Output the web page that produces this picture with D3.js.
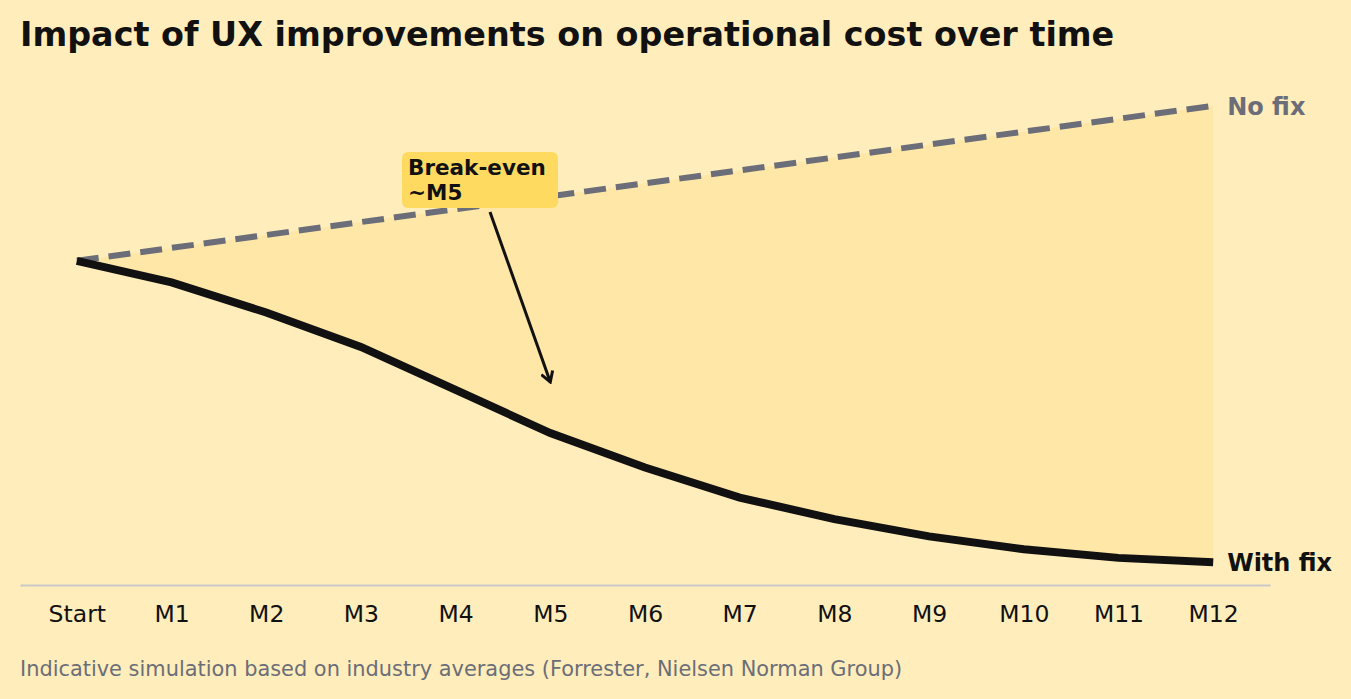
<!DOCTYPE html>
<html>
<head>
<meta charset="utf-8">
<script src="https://cdn.jsdelivr.net/npm/d3@7"></script>
<style>
  html, body { margin: 0; padding: 0; background: #FFEDBB; }
  svg { display: block; font-family: "DejaVu Sans", sans-serif; }
</style>
</head>
<body>
<svg id="chart"></svg>
<script>
// chart data
const months = ["Start", "M1", "M2", "M3", "M4", "M5", "M6", "M7", "M8", "M9", "M10", "M11", "M12"];
const noFix = [100, 103, 106, 109, 112, 115, 118, 121, 124, 127, 130, 133, 136];
const withFix = [100, 95, 88, 80, 70, 60, 52, 45, 40, 36, 33, 31, 30];

const width = 1351, height = 699;
const svg = d3.select("#chart")
    .attr("width", width)
    .attr("height", height);

// scales (matplotlib-like 5% margins)
const x = d3.scaleLinear().domain([-0.6, 12.6]).range([20, 1270]);
const yMin = d3.min(withFix), yMax = d3.max(noFix);
const pad = (yMax - yMin) * 0.05;
const y = d3.scaleLinear().domain([yMin - pad, yMax + pad]).range([585, 83]);

// filled area between the two series
const area = d3.area()
    .x((d, i) => x(i))
    .y0((d, i) => y(withFix[i]))
    .y1(d => y(d));
svg.append("path")
    .datum(noFix)
    .attr("d", area)
    .attr("fill", "#FFE7A8");

// no fix dashed line
const line = d3.line().x((d, i) => x(i)).y(d => y(d));
svg.append("path")
    .datum(noFix)
    .attr("d", line)
    .attr("fill", "none")
    .attr("stroke", "#6B6E78")
    .attr("stroke-width", 6)
    .attr("stroke-dasharray", "22,10");

// with fix line
svg.append("path")
    .datum(withFix)
    .attr("d", line)
    .attr("fill", "none")
    .attr("stroke", "#111111")
    .attr("stroke-width", 8);

// bottom axis
const axis = d3.axisBottom(x)
    .tickValues(d3.range(months.length))
    .tickFormat(i => months[i])
    .tickSize(0)
    .tickPadding(20);
const gx = svg.append("g")
    .attr("transform", `translate(0,585)`)
    .call(axis);
gx.select(".domain").attr("stroke", "#C9C9C9").attr("stroke-width", 2);
gx.selectAll("text")
    .attr("fill", "#111")
    .style("font-size", "23.5px")
    .style("font-family", "DejaVu Sans");

// series end labels
svg.append("text")
    .attr("x", x(12) + 14).attr("y", y(noFix[12]) + 9)
    .attr("fill", "#6B6E78")
    .attr("font-weight", "bold")
    .attr("font-size", 24)
    .text("No fix");
svg.append("text")
    .attr("x", x(12) + 14).attr("y", y(withFix[12]) + 9)
    .attr("fill", "#111")
    .attr("font-weight", "bold")
    .attr("font-size", 24)
    .text("With fix");

// annotation
svg.append("defs").append("marker")
    .attr("id", "arrow")
    .attr("viewBox", "0 0 14 14")
    .attr("refX", 12).attr("refY", 7)
    .attr("markerWidth", 14).attr("markerHeight", 14)
    .attr("markerUnits", "userSpaceOnUse")
    .attr("orient", "auto")
    .append("path")
    .attr("d", "M2,1 L12,7 L2,13")
    .attr("fill", "none")
    .attr("stroke", "#111")
    .attr("stroke-width", 3);

svg.append("line")
    .attr("x1", 490).attr("y1", 212)
    .attr("x2", x(5)).attr("y2", 382)
    .attr("stroke", "#111")
    .attr("stroke-width", 3)
    .attr("marker-end", "url(#arrow)");

svg.append("rect")
    .attr("x", 402).attr("y", 152)
    .attr("width", 156).attr("height", 56)
    .attr("rx", 6)
    .attr("fill", "#FFDA60");
const ann = svg.append("text")
    .attr("x", 408).attr("y", 175)
    .attr("fill", "#111")
    .attr("font-weight", "bold")
    .attr("font-size", 21.5);
ann.append("tspan").attr("x", 408).text("Break-even");
ann.append("tspan").attr("x", 408).attr("dy", 25).text("~M5");

// title and caption
svg.append("text")
    .attr("x", 20).attr("y", 46)
    .attr("fill", "#111")
    .attr("font-weight", "bold")
    .attr("font-size", 33.4)
    .text("Impact of UX improvements on operational cost over time");
svg.append("text")
    .attr("x", 20).attr("y", 676)
    .attr("fill", "#6B6E78")
    .attr("font-size", 20.9)
    .text("Indicative simulation based on industry averages (Forrester, Nielsen Norman Group)");
</script>
</body>
</html>
